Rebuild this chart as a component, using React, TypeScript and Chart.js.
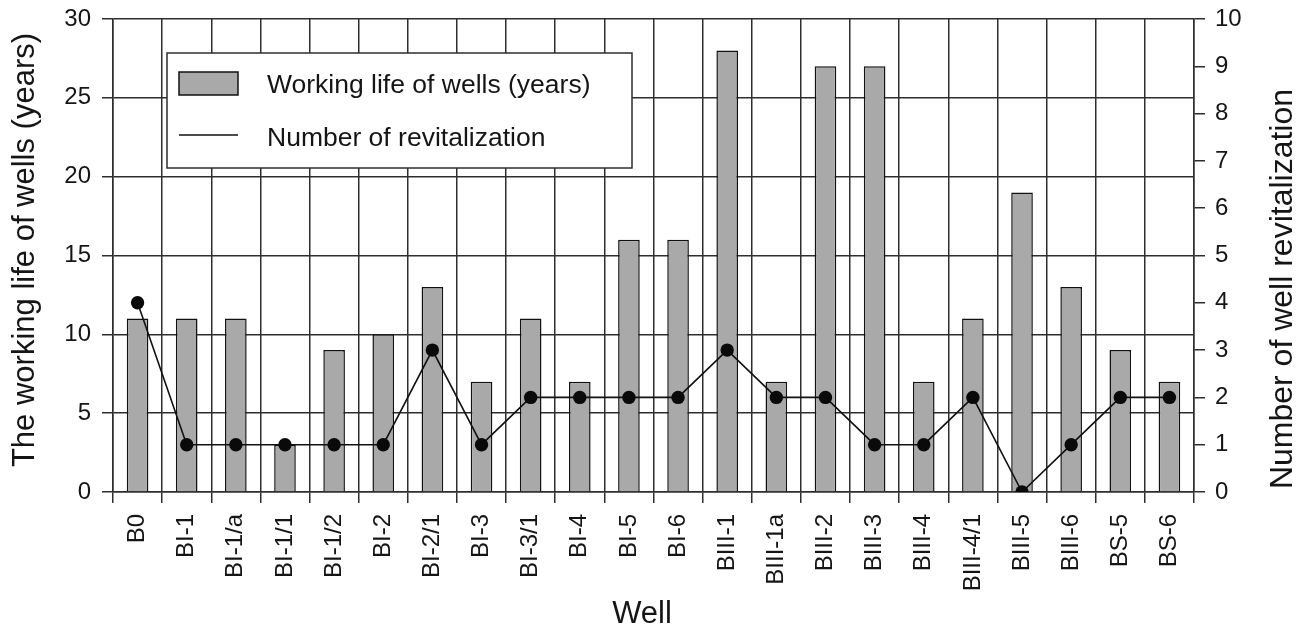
import React, { useEffect, useRef } from "react";
import { Chart, registerables } from "chart.js";

Chart.register(...registerables);

const categories = [
  "B0", "BI-1", "BI-1/a", "BI-1/1", "BI-1/2", "BI-2", "BI-2/1", "BI-3", "BI-3/1", "BI-4", "BI-5",
  "BI-6", "BIII-1", "BIII-1a", "BIII-2", "BIII-3", "BIII-4", "BIII-4/1", "BIII-5", "BIII-6", "BS-5", "BS-6",
];
const workingLife = [11, 11, 11, 3, 9, 10, 13, 7, 11, 7, 16, 16, 28, 7, 27, 27, 7, 11, 19, 13, 9, 7];
const revitalizations = [4, 1, 1, 1, 1, 1, 3, 1, 2, 2, 2, 2, 3, 2, 2, 1, 1, 2, 0, 1, 2, 2];

const barLabel = "Working life of wells (years)";
const lineLabel = "Number of revitalization";
const leftTitle = "The working life of wells (years)";
const rightTitle = "Number of well revitalization";
const xTitle = "Well";

const FONT = "'Liberation Sans', Arial, Helvetica, sans-serif";
const GRID = "#2e2e2e";
const TEXT = "#151515";
const BAR_FILL = "#a9a9a9";

function drawText(ctx: CanvasRenderingContext2D, text: string, x: number, y: number, size: number, rot: number) {
  ctx.save();
  ctx.translate(x, y);
  ctx.rotate(rot);
  ctx.font = `${size}px ${FONT}`;
  ctx.fillStyle = TEXT;
  ctx.textAlign = "center";
  ctx.textBaseline = "middle";
  ctx.fillText(text, 0, 0);
  ctx.restore();
}

const overlayPlugin = {
  id: "overlay",
  afterDraw(chart: any) {
    const ctx = chart.ctx as CanvasRenderingContext2D;
    const ds = chart.data.datasets;
    const bar = ds.find((d: any) => d.type === "bar");
    const line = ds.find((d: any) => d.type === "line");
    ctx.save();
    // legend box
    ctx.fillStyle = "#ffffff";
    ctx.fillRect(167, 53, 465, 115);
    ctx.strokeStyle = GRID;
    ctx.lineWidth = 1.5;
    ctx.strokeRect(167, 53, 465, 115);
    // bar swatch
    ctx.fillStyle = bar.backgroundColor;
    ctx.fillRect(179, 72, 59, 23);
    ctx.strokeStyle = bar.borderColor;
    ctx.lineWidth = 1.5;
    ctx.strokeRect(179, 72, 59, 23);
    // line swatch
    ctx.strokeStyle = line.borderColor;
    ctx.lineWidth = 1.5;
    ctx.beginPath();
    ctx.moveTo(179, 135);
    ctx.lineTo(238, 135);
    ctx.stroke();
    // legend texts
    ctx.fillStyle = TEXT;
    ctx.font = `26.5px ${FONT}`;
    ctx.textAlign = "left";
    ctx.textBaseline = "alphabetic";
    ctx.fillText(bar.label, 267, 93);
    ctx.fillText(line.label, 267, 146);
    ctx.restore();
    // axis titles
    drawText(ctx, leftTitle, 25.5, 250, 31, -Math.PI / 2);
    drawText(ctx, rightTitle, 1283, 289, 32, -Math.PI / 2);
    drawText(ctx, xTitle, 642, 614.5, 31, 0);
  },
};

export default function App() {
  const ref = useRef<HTMLCanvasElement | null>(null);

  useEffect(() => {
    if (!ref.current) return;
    Chart.defaults.font.family = FONT;
    Chart.defaults.color = TEXT;
    const chart = new Chart(ref.current, {
      type: "bar",
      data: {
        labels: categories,
        datasets: [
          {
            type: "line",
            label: lineLabel,
            data: revitalizations,
            yAxisID: "y1",
            borderColor: "#111111",
            borderWidth: 1.6,
            backgroundColor: "#111111",
            pointRadius: 6.7,
            pointBackgroundColor: "#0a0a0a",
            pointBorderWidth: 0,
            tension: 0,
            order: 0,
          } as any,
          {
            type: "bar",
            label: barLabel,
            data: workingLife,
            yAxisID: "y",
            backgroundColor: BAR_FILL,
            borderColor: "#111111",
            borderWidth: 1.5,
            categoryPercentage: 1,
            barPercentage: 0.44,
            order: 1,
          } as any,
        ],
      },
      options: {
        responsive: false,
        animation: false,
        layout: { padding: { top: 19, left: 0, right: 0, bottom: 0 } },
        plugins: {
          legend: { display: false },
          tooltip: { enabled: false },
        },
        scales: {
          x: {
            offset: true,
            grid: {
              offset: true,
              color: GRID,
              lineWidth: 1.5,
              tickLength: 11,
              drawTicks: true,
            },
            border: { color: GRID, width: 1.5 },
            ticks: {
              autoSkip: false,
              minRotation: 90,
              maxRotation: 90,
              padding: 11,
              font: { size: 24, family: FONT },
              color: TEXT,
            },
            afterFit: (scale: any) => {
              scale.height = 138;
            },
          },
          y: {
            position: "left",
            min: 0,
            max: 30,
            ticks: {
              stepSize: 5,
              padding: 11,
              font: { size: 24, family: FONT },
              color: TEXT,
            },
            grid: { color: GRID, lineWidth: 1.5, tickLength: 11 },
            border: { color: GRID, width: 1.5 },
            afterFit: (scale: any) => {
              scale.width = 113;
              scale.paddingTop = 10;
              scale.paddingBottom = 10;
            },
          },
          y1: {
            position: "right",
            min: 0,
            max: 10,
            ticks: {
              stepSize: 1,
              padding: 10,
              font: { size: 24, family: FONT },
              color: TEXT,
            },
            grid: { drawOnChartArea: false, color: GRID, lineWidth: 1.5, tickLength: 11 },
            border: { color: GRID, width: 1.5 },
            afterFit: (scale: any) => {
              scale.width = 106;
              scale.paddingTop = 10;
              scale.paddingBottom = 10;
            },
          },
        },
      },
      plugins: [overlayPlugin],
    });
    return () => chart.destroy();
  }, []);

  return (
    <div
      style={{
        position: "fixed",
        left: 0,
        top: 0,
        width: 1300,
        height: 630,
        background: "#ffffff",
      }}
    >
      <canvas ref={ref} width={1300} height={630} style={{ display: "block" }} />
    </div>
  );
}
